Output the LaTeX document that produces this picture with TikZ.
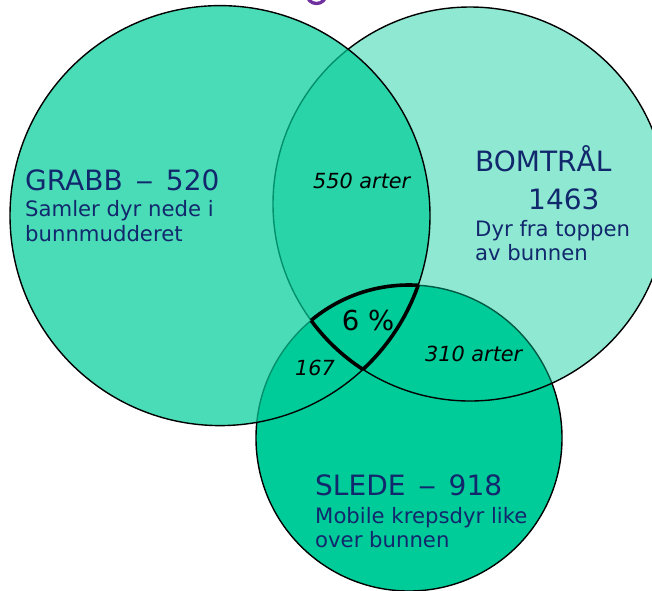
\documentclass[tikz,border=0pt]{standalone}
\usepackage{fontspec}
\usepackage{graphicx}
\setmainfont{DejaVu Sans}
\definecolor{vteal}{RGB}{0,204,153}
\definecolor{vnavy}{RGB}{18,40,108}
\definecolor{vpurple}{RGB}{112,48,160}
\newcommand{\longdash}{\hspace{12.5pt}\scalebox{1.3}[1]{–}\hspace{12.5pt}}
\tikzset{
  bigtext/.style={anchor=base west, inner sep=0pt, text=vnavy, font=\fontsize{28}{32}\selectfont},
  smalltext/.style={anchor=base west, inner sep=0pt, text=vnavy, font=\fontsize{21.2}{24}\selectfont},
  counttext/.style={anchor=base west, inner sep=0pt, text=black, font=\fontsize{20.8}{24}\selectfont\itshape},
  ring/.style={draw=black, line width=1.4pt},
  core/.style={draw=black, line width=3.6pt},
}
\begin{document}
\begin{tikzpicture}[x=1pt,y=-1pt]
\useasboundingbox (0,0) rectangle (652,590);
\coordinate (cA) at (220,215.6);
\coordinate (cB) at (470,204);
\coordinate (cC) at (409,438);
\coordinate (tg) at (316.5,-5.5);
\begin{scope}
\clip (0,0) rectangle (652,590);
% lower edge of a title glyph cut off by the top border
\draw[vpurple, line width=3.3pt] (tg) ellipse[x radius=9.5pt, y radius=9pt];
% circles: C opaque, B and A translucent on top
\path[ring, fill=vteal] (cC) circle[radius=153pt];
\path[ring, fill=vteal, fill opacity=0.44] (cB) circle[radius=197pt];
\path[ring, fill=vteal, fill opacity=0.71] (cA) circle[radius=210pt];
% thick border of the common region
\begin{scope}
  \clip (cA) circle[radius=210pt];
  \clip (cB) circle[radius=197pt];
  \draw[core] (cC) circle[radius=153pt];
\end{scope}
\begin{scope}
  \clip (cA) circle[radius=210pt];
  \clip (cC) circle[radius=153pt];
  \draw[core] (cB) circle[radius=197pt];
\end{scope}
\begin{scope}
  \clip (cB) circle[radius=197pt];
  \clip (cC) circle[radius=153pt];
  \draw[core] (cA) circle[radius=210pt];
\end{scope}
\end{scope}
% labels
\node[bigtext] (grabb) at (25,190.5) {GRABB\longdash 520};
\node[smalltext] (grabb1) at (25,216.7) {Samler dyr nede i};
\node[smalltext] (grabb2) at (25,241.7) {bunnmudderet};
\node[bigtext] (bom) at (475,171.7) {BOMTRÅL};
\node[bigtext] (bomn) at (528,209) {1463};
\node[smalltext] (bom1) at (475,236.7) {Dyr fra toppen};
\node[smalltext] (bom2) at (475,260.7) {av bunnen};
\node[bigtext] (slede) at (315,495) {SLEDE\longdash 918};
\node[smalltext] (slede1) at (315,523.3) {Mobile krepsdyr like};
\node[smalltext] (slede2) at (315,547.3) {over bunnen};
\node[counttext] (ab) at (313,188) {550 arter};
\node[counttext] (ac) at (295,375) {167};
\node[counttext] (bc) at (425,361.7) {310 arter};
\node[anchor=base west, inner sep=0pt, text=black, font=\fontsize{27.5}{30}\selectfont] (abc) at (341.7,330) {6 \%};
\end{tikzpicture}
\end{document}
